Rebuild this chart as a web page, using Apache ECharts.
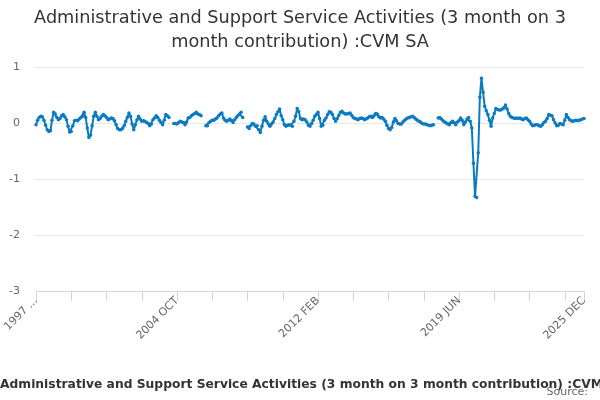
<!DOCTYPE html>
<html>
   <head>
       <meta charset="utf-8">
       <style>html,body{margin:0;padding:0;background:#fff;}</style>
   </head>
   <body>
       <div id="container" style="height: 400px;width: 600px;"></div>
   </body>
</html>
<script type="text/javascript" src="https://cdn.jsdelivr.net/npm/echarts@6/dist/echarts.min.js"></script>
<script type="text/javascript">
    // monthly series, first point 1997 JUN, last 2025 DEC
    const monthNames = ['JAN','FEB','MAR','APR','MAY','JUN','JUL','AUG','SEP','OCT','NOV','DEC'];
    const startYear = 1997;
    const startMonth = 5; // JUN
    const values = [
        -0.03,0.05,0.10,0.12,0.11,0.05,-0.04,-0.12,-0.15,-0.14,
        0.05,0.19,0.16,0.10,0.06,0.08,0.13,0.15,0.11,0.06,
        -0.06,-0.16,-0.15,-0.05,0.04,0.05,0.04,0.07,0.10,0.12,
        0.19,0.10,-0.09,-0.26,-0.22,-0.05,0.12,0.19,0.12,0.06,
        0.08,0.12,0.15,0.13,0.10,0.06,0.07,0.09,0.08,0.04,
        -0.03,-0.10,-0.12,-0.12,-0.10,-0.05,0.03,0.10,0.18,0.12,
        -0.02,-0.12,-0.03,0.06,0.12,0.07,0.03,0.04,0.03,0.01,
        -0.01,-0.05,-0.02,0.06,0.09,0.13,0.10,0.05,0.01,-0.03,
        0.05,0.15,0.13,0.10,null,null,-0.01,-0.01,-0.02,0.01,
        0.03,0.02,0.01,-0.03,0.02,0.09,0.10,0.13,0.15,0.17,
        0.19,0.16,0.15,0.13,null,null,-0.05,-0.05,0.01,0.03,
        0.05,0.05,0.07,0.09,0.13,0.16,0.18,0.09,0.05,0.03,
        0.05,0.07,0.04,0.01,0.06,0.10,0.13,0.16,0.19,0.10,
        null,null,-0.07,-0.10,-0.05,-0.01,-0.02,-0.06,-0.05,-0.12,
        -0.17,-0.06,0.05,0.11,0.03,-0.02,-0.06,-0.02,0.02,0.08,
        0.15,0.20,0.25,0.13,0.06,-0.03,-0.06,-0.04,-0.03,-0.04,
        -0.06,0.03,0.12,0.26,0.20,0.08,0.06,0.07,0.06,0.02,
        -0.04,-0.06,-0.01,0.05,0.12,0.15,0.19,0.08,-0.06,-0.04,
        0.05,0.09,0.15,0.20,0.19,0.15,0.08,0.03,0.08,0.14,
        0.19,0.21,0.18,0.16,0.16,0.17,0.18,0.14,0.10,0.08,
        0.07,0.06,0.08,0.09,0.08,0.06,0.07,0.09,0.11,0.12,
        0.10,0.13,0.17,0.16,0.11,0.09,0.10,0.07,0.03,-0.04,
        -0.10,-0.12,-0.08,0.02,0.08,0.04,-0.01,-0.02,-0.02,0.02,
        0.05,0.07,0.09,0.10,0.11,0.12,0.10,0.07,0.05,0.03,
        0.02,-0.01,-0.02,-0.02,-0.03,-0.04,-0.05,-0.04,-0.03,null,
        null,0.09,0.10,0.07,0.04,0.02,0.00,-0.02,-0.03,0.01,
        0.03,0.00,-0.03,0.02,0.04,0.09,0.05,-0.03,0.02,0.07,
        0.10,0.03,-0.09,-0.72,-1.31,-1.33,-0.53,0.46,0.80,0.55,
        0.30,0.22,0.15,0.05,-0.06,0.09,0.17,0.26,0.24,0.23,
        0.23,0.25,0.27,0.32,0.25,0.17,0.12,0.10,0.09,0.08,
        0.09,0.08,0.09,0.07,0.06,0.08,0.09,0.06,0.03,-0.02,
        -0.05,-0.04,-0.03,-0.03,-0.05,-0.06,-0.03,0.01,0.03,0.08,
        0.15,0.14,0.13,0.06,0.00,-0.05,-0.04,-0.01,-0.02,-0.03,
        0.05,0.15,0.10,0.06,0.04,0.03,0.04,0.05,0.04,0.05,
        0.06,0.07,0.08
    ];
    const yTicks = [-3, -2, -1, 0, 1];
    const titleText = 'Administrative and Support Service Activities (3 month on 3\nmonth contribution) :CVM SA';
    const axisName = 'Administrative and Support Service Activities (3 month on 3 month contribution) :CVM SA';
    const sourceText = 'Source:';

    const categories = [];
    for (let i = 0; i < values.length; i++) {
        const m = startMonth + i;
        categories.push((startYear + Math.floor(m / 12)) + ' ' + monthNames[m % 12]);
    }
    const last = categories.length - 1;

    const dom = document.getElementById("container");
    const myChart = echarts.init(dom, null, {renderer: 'canvas'});
    const font = 'DejaVu Sans';
    const option = {
        animation: false,
        textStyle: {fontFamily: font},
        title: {
            text: titleText,
            left: 'center',
            top: 1,
            textStyle: {fontSize: 17.7, fontWeight: 'normal', color: '#333333', lineHeight: 24, fontFamily: font}
        },
        grid: {left: 36, right: 16, top: 67, bottom: 109},
        xAxis: {
            type: 'category',
            data: categories,
            boundaryGap: false,
            axisLine: {onZero: false, lineStyle: {color: '#ccd6eb'}},
            axisTick: {
                length: 10,
                lineStyle: {color: '#ccd6eb'},
                interval: function (idx) { return idx % 22 === 0 || idx === last; }
            },
            axisLabel: {
                rotate: 45,
                color: '#666666',
                fontSize: 11,
                margin: 8,
                interval: function (idx) { return idx % 88 === 0 || idx === last; },
                formatter: function (val, idx) {
                    return idx === 0 ? val.slice(0, 4) + ' ...' : val;
                }
            },
            splitLine: {show: false}
        },
        yAxis: {
            type: 'value',
            min: yTicks[0],
            max: yTicks[yTicks.length - 1],
            interval: 1,
            axisLine: {show: false},
            axisTick: {show: false},
            axisLabel: {color: '#666666', fontSize: 11, margin: 16},
            splitLine: {lineStyle: {color: '#e6e6e6'}}
        },
        graphic: [
            {
                type: 'text',
                left: 0,
                top: 379,
                style: {
                    text: axisName,
                    fill: '#333333',
                    font: 'bold 12.3px "DejaVu Sans"'
                }
            },
            {
                type: 'text',
                right: 12,
                top: 387,
                style: {
                    text: sourceText,
                    fill: '#666666',
                    font: '11px "DejaVu Sans"'
                }
            }
        ],
        series: [
            {
                name: 'CVM SA',
                type: 'line',
                data: values,
                connectNulls: false,
                showAllSymbol: true,
                symbol: 'circle',
                symbolSize: 3.5,
                lineStyle: {width: 2, color: '#0b7bc1'},
                itemStyle: {color: '#0b7bc1'}
            }
        ]
    };
    myChart.setOption(option, true);
</script>
